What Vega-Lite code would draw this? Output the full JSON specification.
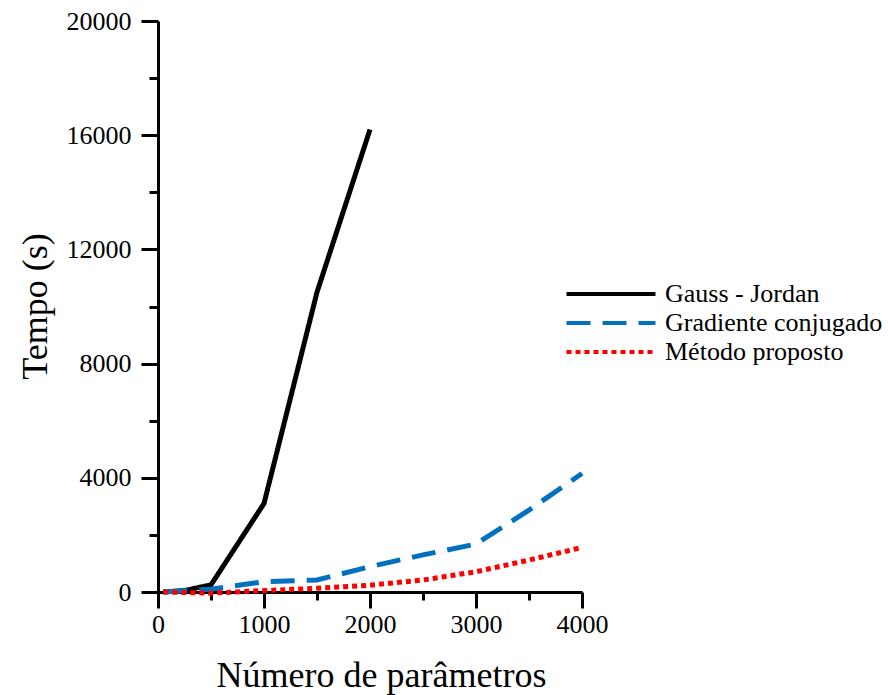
{
  "$schema": "https://vega.github.io/schema/vega-lite/v6.json",
  "autosize": "none",
  "width": 424,
  "height": 571,
  "padding": {"left": 158, "top": 21, "right": 306, "bottom": 103},
  "background": "white",
  "config": {
    "view": {"stroke": null},
    "font": "Liberation Serif",
    "axis": {"grid": false, "domainColor": "black", "domainWidth": 3, "tickColor": "black", "tickWidth": 3, "labelColor": "black", "labelFont": "Liberation Serif", "labelFontSize": 26, "titleFont": "Liberation Serif", "titleFontSize": 36, "titleFontWeight": "normal", "titleColor": "black"}
  },
  "data": {"values": [
    {"n": 50, "t": 0, "m": "Gauss - Jordan"},
    {"n": 250, "t": 50, "m": "Gauss - Jordan"},
    {"n": 500, "t": 250, "m": "Gauss - Jordan"},
    {"n": 1000, "t": 3100, "m": "Gauss - Jordan"},
    {"n": 1500, "t": 10500, "m": "Gauss - Jordan"},
    {"n": 2000, "t": 16200, "m": "Gauss - Jordan"},
    {"n": 50, "t": 0, "m": "Gradiente conjugado"},
    {"n": 500, "t": 100, "m": "Gradiente conjugado"},
    {"n": 1000, "t": 360, "m": "Gradiente conjugado"},
    {"n": 1500, "t": 420, "m": "Gradiente conjugado"},
    {"n": 2000, "t": 890, "m": "Gradiente conjugado"},
    {"n": 2500, "t": 1300, "m": "Gradiente conjugado"},
    {"n": 3000, "t": 1680, "m": "Gradiente conjugado"},
    {"n": 3500, "t": 2870, "m": "Gradiente conjugado"},
    {"n": 4000, "t": 4150, "m": "Gradiente conjugado"},
    {"n": 50, "t": 0, "m": "Método proposto"},
    {"n": 500, "t": -40, "m": "Método proposto"},
    {"n": 1000, "t": 50, "m": "Método proposto"},
    {"n": 1500, "t": 130, "m": "Método proposto"},
    {"n": 2000, "t": 240, "m": "Método proposto"},
    {"n": 2500, "t": 420, "m": "Método proposto"},
    {"n": 3000, "t": 710, "m": "Método proposto"},
    {"n": 3500, "t": 1120, "m": "Método proposto"},
    {"n": 4000, "t": 1560, "m": "Método proposto"}
  ]},
  "resolve": {"axis": {"x": "independent", "y": "independent"}},
  "layer": [
    {
      "mark": {"type": "line", "strokeWidth": 0, "opacity": 0},
      "encoding": {
        "x": {"field": "n", "type": "quantitative", "scale": {"domain": [0, 4000], "nice": false, "zero": false},
          "axis": {"title": null, "orient": "bottom", "values": [500, 1500, 2500, 3500], "labels": false, "domain": false, "tickSize": 8}},
        "y": {"field": "t", "type": "quantitative", "scale": {"domain": [0, 20000], "nice": false, "zero": false},
          "axis": {"title": null, "orient": "left", "values": [2000, 6000, 10000, 14000, 18000], "labels": false, "domain": false, "tickSize": 9}},
        "detail": {"field": "m"}
      }
    },
    {
      "mark": {"type": "line", "strokeWidth": 5, "strokeCap": "butt", "clip": false},
      "encoding": {
        "x": {"field": "n", "type": "quantitative",
          "axis": {"title": "Número de parâmetros", "orient": "bottom", "values": [0, 1000, 2000, 3000, 4000], "format": "d", "tickSize": 16,
            "labelFont": "Liberation Serif", "labelFontSize": 26, "labelPadding": 3, "labelFlush": false, "labelOverlap": false,
            "titleX": 223, "titleY": 83, "titleBaseline": "middle", "titleAnchor": "middle", "titleAlign": "center"}},
        "y": {"field": "t", "type": "quantitative",
          "axis": {"title": "Tempo (s)", "orient": "left", "values": [0, 4000, 8000, 12000, 16000, 20000], "format": "d", "tickSize": 17,
            "labelFont": "Liberation Serif", "labelFontSize": 26, "labelPadding": 10, "labelFlush": false, "labelOverlap": false,
            "titleX": -123, "titleY": 285, "titleBaseline": "middle", "titleAngle": -90, "titleAlign": "center"}},
        "color": {"field": "m", "type": "nominal", "sort": null,
          "scale": {"domain": ["Gauss - Jordan", "Gradiente conjugado", "Método proposto"], "range": ["#000000", "#0070C0", "#FF0000"]},
          "legend": {"title": null, "orient": "none", "legendX": 440, "legendY": 260, "symbolType": "M-4.45,0H4.45", "symbolSize": 400, "symbolStrokeWidth": 4,
            "labelFont": "Liberation Serif", "labelFontSize": 26, "labelColor": "black", "labelOffset": 41, "labelLimit": 0, "rowPadding": 3, "padding": 0}},
        "strokeDash": {"field": "m", "type": "nominal", "sort": null,
          "scale": {"domain": ["Gauss - Jordan", "Gradiente conjugado", "Método proposto"], "range": [[1, 0], [24, 12], [5, 4]]},
          "legend": {"title": null, "orient": "none", "legendX": 440, "legendY": 260, "symbolType": "M-4.45,0H4.45", "symbolSize": 400, "symbolStrokeWidth": 4,
            "labelFont": "Liberation Serif", "labelFontSize": 26, "labelColor": "black", "labelOffset": 41, "labelLimit": 0, "rowPadding": 3, "padding": 0}}
      }
    }
  ]
}
